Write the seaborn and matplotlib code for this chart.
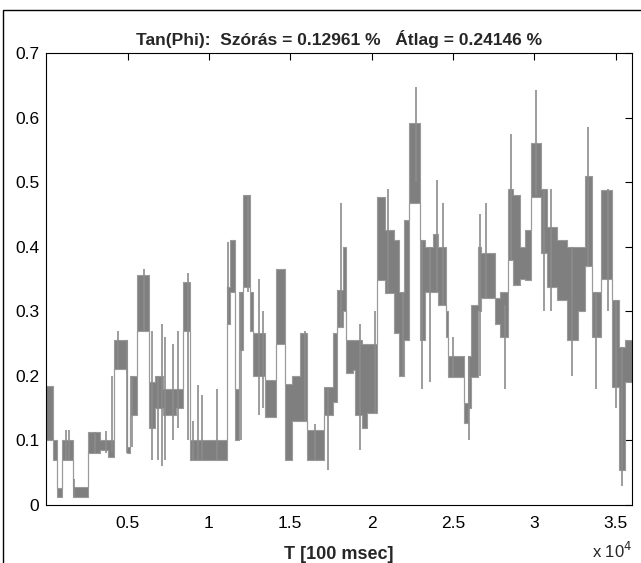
"""
Tan(Phi) time series, MATLAB style step plot.
"""

import matplotlib
matplotlib.use('Agg')
import matplotlib.pyplot as plt  # noqa: E402
import matplotlib.patches as mpatches  # noqa: E402
import seaborn as sns  # noqa: E402
import numpy as np  # noqa: E402

# segment start times [100 msec], lower and upper level of the fast oscillation
seg_t = [0, 400, 650, 1000, 1650, 2600, 3300, 3800, 4150, 4950,
         5150, 5600, 6300, 6700, 7200, 8000, 8400, 8850, 11100, 11300,
         11600, 11850, 12100, 12550, 12700, 13460, 14150, 14700, 15100, 15600,
         16050, 17100, 17600, 17900, 18250, 18450, 18870, 19000, 19420, 19730,
         20350, 20850, 21400, 21700, 22000, 22300, 22950, 23250, 23800, 24100,
         24600, 24700, 25700, 25950, 26100, 26550, 26750, 27600, 27900, 28400,
         28700, 29130, 29400, 29820, 30430, 30800, 31400, 32030, 32650, 33080,
         33510, 34120, 34800, 35230, 35540]
seg_lo = [0.10, 0.07, 0.012, 0.07, 0.012, 0.08, 0.085, 0.075, 0.21, 0.08,
          0.14, 0.27, 0.12, 0.15, 0.14, 0.15, 0.27, 0.07, 0.28, 0.33,
          0.10, 0.24, 0.338, 0.27, 0.20, 0.137, 0.25, 0.07, 0.13, 0.13,
          0.07, 0.14, 0.16, 0.276, 0.30, 0.204, 0.209, 0.14, 0.12, 0.142,
          0.348, 0.328, 0.266, 0.20, 0.255, 0.467, 0.255, 0.33, 0.33, 0.31,
          0.26, 0.198, 0.127, 0.15, 0.198, 0.30, 0.32, 0.28, 0.26, 0.38,
          0.34, 0.35, 0.348, 0.477, 0.39, 0.338, 0.317, 0.255, 0.30, 0.37,
          0.26, 0.35, 0.183, 0.054, 0.19]
seg_hi = [0.185, 0.10, 0.027, 0.10, 0.028, 0.113, 0.10, 0.10, 0.255, 0.09,
          0.20, 0.356, 0.19, 0.20, 0.18, 0.18, 0.345, 0.10, 0.338, 0.41,
          0.18, 0.33, 0.48, 0.33, 0.266, 0.194, 0.366, 0.188, 0.20, 0.266,
          0.116, 0.183, 0.266, 0.333, 0.40, 0.255, 0.255, 0.255, 0.25, 0.25,
          0.477, 0.426, 0.41, 0.33, 0.441, 0.591, 0.41, 0.40, 0.42, 0.40,
          0.30, 0.23, 0.158, 0.23, 0.31, 0.40, 0.39, 0.32, 0.33, 0.49,
          0.48, 0.40, 0.426, 0.56, 0.49, 0.43, 0.41, 0.40, 0.40, 0.51,
          0.33, 0.487, 0.317, 0.245, 0.255]
t_end = 36000

# isolated spikes (time, low, high)
spike_t = [1200, 1400, 1700, 3000, 3700, 4050, 4400, 4950, 5300, 6000,
           6500, 6900, 7100, 7300, 7800, 8100, 8700, 9000, 9300, 9600,
           10500, 11200, 12000, 12400, 13100, 13300, 15900, 16500, 17300, 18100,
           19300, 20200, 21000, 21900, 22700, 23100, 23600, 24000, 24400, 25000,
           26000, 26650, 27000, 28200, 28550, 30100, 30600, 31000, 32300, 33300,
           33800, 34500, 35000, 35400]
spike_lo = [0.07, 0.07, 0.012, 0.08, 0.08, 0.08, 0.21, 0.08, 0.09, 0.27,
            0.07, 0.07, 0.06, 0.07, 0.10, 0.12, 0.10, 0.07, 0.07, 0.07,
            0.07, 0.28, 0.10, 0.33, 0.14, 0.15, 0.13, 0.07, 0.054, 0.276,
            0.085, 0.142, 0.33, 0.20, 0.50, 0.18, 0.19, 0.33, 0.31, 0.198,
            0.10, 0.20, 0.32, 0.18, 0.38, 0.48, 0.30, 0.30, 0.20, 0.37,
            0.18, 0.30, 0.15, 0.03]
spike_hi = [0.116, 0.116, 0.04, 0.113, 0.115, 0.20, 0.27, 0.255, 0.20, 0.365,
            0.27, 0.20, 0.28, 0.26, 0.25, 0.27, 0.36, 0.13, 0.186, 0.17,
            0.18, 0.408, 0.33, 0.48, 0.35, 0.30, 0.27, 0.126, 0.18, 0.467,
            0.28, 0.30, 0.49, 0.33, 0.647, 0.41, 0.40, 0.503, 0.467, 0.26,
            0.23, 0.45, 0.467, 0.31, 0.575, 0.642, 0.49, 0.49, 0.40, 0.585,
            0.33, 0.49, 0.317, 0.245]

x_ticks = [5000, 10000, 15000, 20000, 25000, 30000, 35000]
x_labels = ['0.5', '1', '1.5', '2', '2.5', '3', '3.5']
y_ticks = [0, 0.1, 0.2, 0.3, 0.4, 0.5, 0.6, 0.7]
y_labels = ['0', '0.1', '0.2', '0.3', '0.4', '0.5', '0.6', '0.7']

sns.set_theme(style='white')
plt.rcParams['font.family'] = ['Liberation Sans', 'DejaVu Sans']

fig = plt.figure(figsize=(6.41, 5.63), dpi=100)
ax = fig.add_axes([0.072, 0.103, 0.914, 0.803])

t_all = np.array(seg_t + [t_end])
lo_all = np.array(seg_lo + [seg_lo[-1]])
hi_all = np.array(seg_hi + [seg_hi[-1]])

ax.fill_between(t_all, lo_all, hi_all, step='post',
                color='#7f7f7f', linewidth=0)
ax.step(t_all, lo_all, where='post', color='#9a9a9a', linewidth=0.8)
ax.step(t_all, hi_all, where='post', color='#9a9a9a', linewidth=0.8)
ax.vlines(spike_t, spike_lo, spike_hi, color='#8c8c8c', linewidth=1.2)

ax.set_xlim(0, 36000)
ax.set_ylim(0, 0.7)
ax.set_xticks(x_ticks)
ax.set_xticklabels(x_labels)
ax.set_yticks(y_ticks)
ax.set_yticklabels(y_labels)
ax.tick_params(direction='in', length=5, width=0.8, colors='black',
               labelsize=12.5, top=True, right=True, pad=5)
ax.tick_params(axis='x', pad=8)
for spine in ax.spines.values():
    spine.set_color('black')
    spine.set_linewidth(0.8)

ax.set_title('Tan(Phi):  Szórás = 0.12961 %   Átlag = 0.24146 %',
             fontsize=12.5, fontweight='bold', pad=6)
ax.set_xlabel('T [100 msec]', fontsize=13, fontweight='bold', labelpad=11)
ax.text(1.0, -0.118, r'x 10$^{4}$', transform=ax.transAxes,
        ha='right', va='baseline', fontsize=12)

fig.patches.append(mpatches.Rectangle(
    (3 / 641, -0.05), 1.1, 1.05 - 10 / 563, transform=fig.transFigure,
    fill=False, edgecolor='black', linewidth=1.0, clip_on=False))

plt.savefig('out.png', dpi=100)
plt.close()
